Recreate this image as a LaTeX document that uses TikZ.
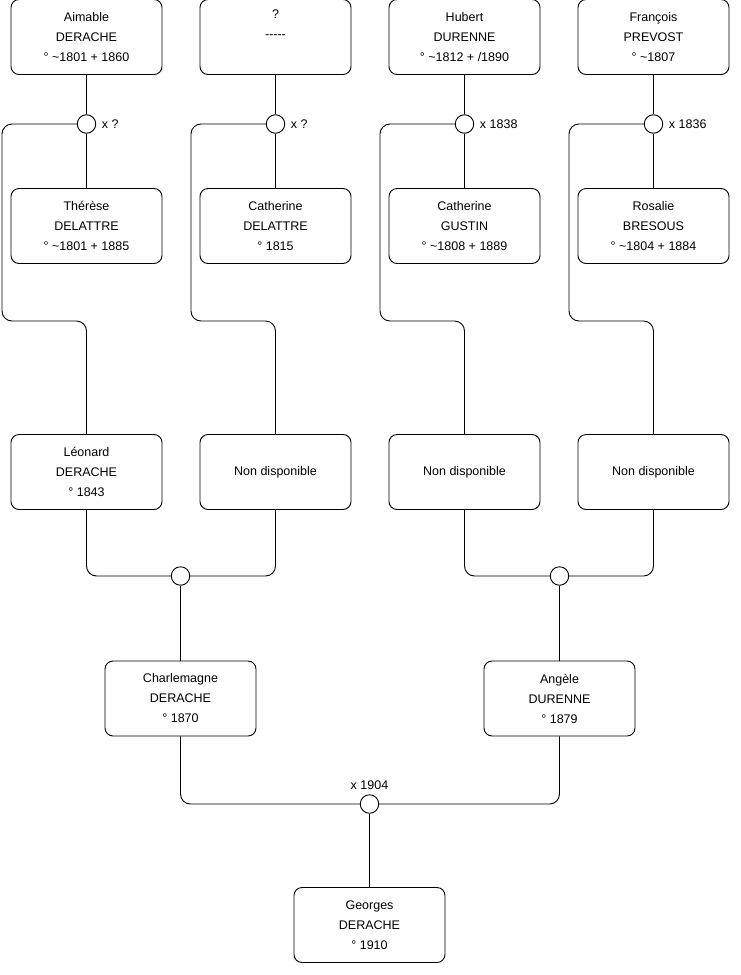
\documentclass[tikz,border=0pt]{standalone}
\usepackage{fontspec}
\setmainfont{Liberation Sans}
\usepackage{tikz}

\begin{document}
\begin{tikzpicture}[x=1pt,y=-1pt,line width=0.9pt,
    person/.style={draw,rounded corners=8pt,minimum width=151pt,minimum height=75pt,
      inner sep=0pt,align=center,font=\fontsize{12.5}{20}\selectfont},
    union/.style={draw,circle,fill=white,minimum size=18.5pt,inner sep=0pt},
    every label/.style={font=\fontsize{12.5}{14}\selectfont},
    link/.style={rounded corners=10pt}]
  \useasboundingbox (0,0) rectangle (740,975);
  % grands-parents
  \node[person] (aimable)  at (86.5,37) {Aimable\\DERACHE\\° \textasciitilde1801 + 1860};
  \node[person] (inconnu)  at (275.5,37) {?\\-{}-{}-{}-{}-\\\strut};
  \node[person] (hubert)   at (464.5,37) {Hubert\\DURENNE\\° \textasciitilde1812 + /1890};
  \node[person] (francois) at (653.5,37) {François\\PREVOST\\° \textasciitilde1807};
  \node[person] (therese)  at (86.5,226) {Thérèse\\DELATTRE\\° \textasciitilde1801 + 1885};
  \node[person] (cathD)    at (275.5,226) {Catherine\\DELATTRE\\° 1815};
  \node[person] (cathG)    at (464.5,226) {Catherine\\GUSTIN\\° \textasciitilde1808 + 1889};
  \node[person] (rosalie)  at (653.5,226) {Rosalie\\BRESOUS\\° \textasciitilde1804 + 1884};
  % unions
  \node[union,label={[label distance=2pt]right:x ?}]    (u1) at (86.5,124) {};
  \node[union,label={[label distance=2pt]right:x ?}]    (u2) at (275.5,124) {};
  \node[union,label={[label distance=2pt]right:x 1838}] (u3) at (464.5,124) {};
  \node[union,label={[label distance=2pt]right:x 1836}] (u4) at (653.5,124) {};
  \foreach \a/\u/\b in {aimable/u1/therese,inconnu/u2/cathD,hubert/u3/cathG,francois/u4/rosalie}{
    \draw (\a) -- (\u) -- (\b);
  }
  % parents
  \node[person] (leonard) at (86.5,472) {Léonard\\DERACHE\\° 1843};
  \node[person] (nd1)     at (275.5,472) {Non disponible};
  \node[person] (nd2)     at (464.5,472) {Non disponible};
  \node[person] (nd3)     at (653.5,472) {Non disponible};
  \draw[link] (u1.west) -| (2,321) -| (leonard.north);
  \draw[link] (u2.west) -| (191,321) -| (nd1.north);
  \draw[link] (u3.west) -| (380,321) -| (nd2.north);
  \draw[link] (u4.west) -| (569,321) -| (nd3.north);
  \node[union] (u5) at (180.5,576) {};
  \node[union] (u6) at (559.5,576) {};
  \draw[link] (leonard.south) |- (u5.west);
  \draw[link] (nd1.south) |- (u5.east);
  \draw[link] (nd2.south) |- (u6.west);
  \draw[link] (nd3.south) |- (u6.east);
  % enfants
  \node[person] (charlemagne) at (180.5,698.5) {Charlemagne\\DERACHE\\° 1870};
  \node[person] (angele)      at (559.5,698.5) {Angèle\\DURENNE\\° 1879};
  \draw (u5) -- (charlemagne);
  \draw (u6) -- (angele);
  \node[union,label={[label distance=1pt]above:x 1904}] (u7) at (369.5,804) {};
  \draw[link] (charlemagne.south) |- (u7.west);
  \draw[link] (angele.south) |- (u7.east);
  \node[person] (georges) at (369.5,925) {Georges\\DERACHE\\° 1910};
  \draw (u7) -- (georges);
\end{tikzpicture}
\end{document}
